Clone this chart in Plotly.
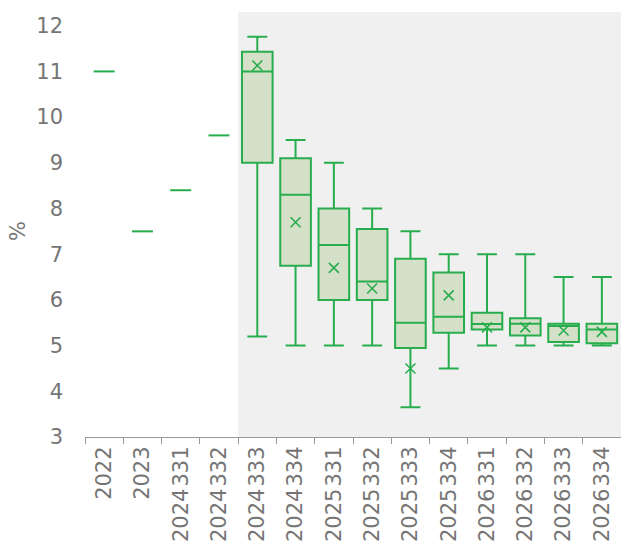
import plotly.graph_objects as go

HS = "\u200a"  # hair space between year and quarter code

# Period labels
periods = ["2022", "2023", f"2024{HS}331", f"2024{HS}332", f"2024{HS}333", f"2024{HS}334",
           f"2025{HS}331", f"2025{HS}332", f"2025{HS}333", f"2025{HS}334",
           f"2026{HS}331", f"2026{HS}332", f"2026{HS}333", f"2026{HS}334"]

# Actual values (single points)
actual_periods = periods[:4]
actual_values = [11.0, 7.5, 8.4, 9.6]

# Forecast distribution per period
fc_periods = periods[4:]
fc_min = [5.2, 5.0, 5.0, 5.0, 3.65, 4.5, 5.0, 5.0, 5.0, 5.0]
fc_q1 = [9.0, 6.75, 6.0, 6.0, 4.95, 5.28, 5.35, 5.22, 5.08, 5.05]
fc_median = [11.0, 8.3, 7.2, 6.4, 5.5, 5.63, 5.47, 5.48, 5.43, 5.35]
fc_q3 = [11.43, 9.1, 8.0, 7.55, 6.9, 6.6, 5.72, 5.6, 5.48, 5.48]
fc_max = [11.76, 9.5, 9.0, 8.0, 7.5, 7.0, 7.0, 7.0, 6.5, 6.5]
fc_mean = [11.13, 7.7, 6.7, 6.25, 4.5, 6.1, 5.4, 5.4, 5.33, 5.3]

GREEN = "#27ad4d"
FILL = "#d4e0c7"
GREY = "#757575"
FONT = "DejaVu Sans"
FS = 21

fig = go.Figure()

fig.add_trace(go.Scatter(
    x=actual_periods, y=actual_values, mode="markers",
    marker=dict(symbol="line-ew", size=15, line=dict(color=GREEN, width=2)),
    showlegend=False, hoverinfo="x+y",
))

fig.add_trace(go.Box(
    x=fc_periods, lowerfence=fc_min, q1=fc_q1, median=fc_median,
    q3=fc_q3, upperfence=fc_max,
    fillcolor=FILL, line=dict(color=GREEN, width=2),
    whiskerwidth=0.65, width=0.8, boxpoints=False, showlegend=False,
))

fig.add_trace(go.Scatter(
    x=fc_periods, y=fc_mean, mode="markers",
    marker=dict(symbol="x-thin", size=10, line=dict(color=GREEN, width=1.6)),
    showlegend=False,
))

# Shaded forecast zone
fig.add_shape(type="rect", xref="x", yref="paper",
              x0=3.5, x1=13.5, y0=0, y1=1,
              fillcolor="#f0f0f0", line=dict(width=0), layer="below")

# Y-axis unit label
fig.add_annotation(text="%", xref="paper", yref="paper", x=-0.125, y=0.485,
                   xanchor="center", yanchor="middle", textangle=-90, showarrow=False,
                   font=dict(family=FONT, size=FS, color=GREY))

fig.update_layout(
    width=621, height=551,
    margin=dict(l=85, r=0, t=12, b=114),
    paper_bgcolor="white", plot_bgcolor="white",
    font=dict(family=FONT, size=FS, color=GREY),
    xaxis=dict(
        type="category", categoryorder="array", categoryarray=periods,
        range=[-0.5, 13.5], tickangle=-90, tickson="boundaries",
        ticks="outside", ticklen=6, tickcolor="#999999",
        showline=True, linecolor="#999999", linewidth=1,
        showgrid=False, zeroline=False,
        tickfont=dict(family=FONT, size=FS, color=GREY),
    ),
    yaxis=dict(
        range=[3, 12.3], dtick=1, tick0=3, showgrid=False, zeroline=False,
        showline=False, ticks="", ticklabelstandoff=21,
        tickfont=dict(family=FONT, size=FS, color=GREY),
    ),
)

fig.write_html("out.html")
